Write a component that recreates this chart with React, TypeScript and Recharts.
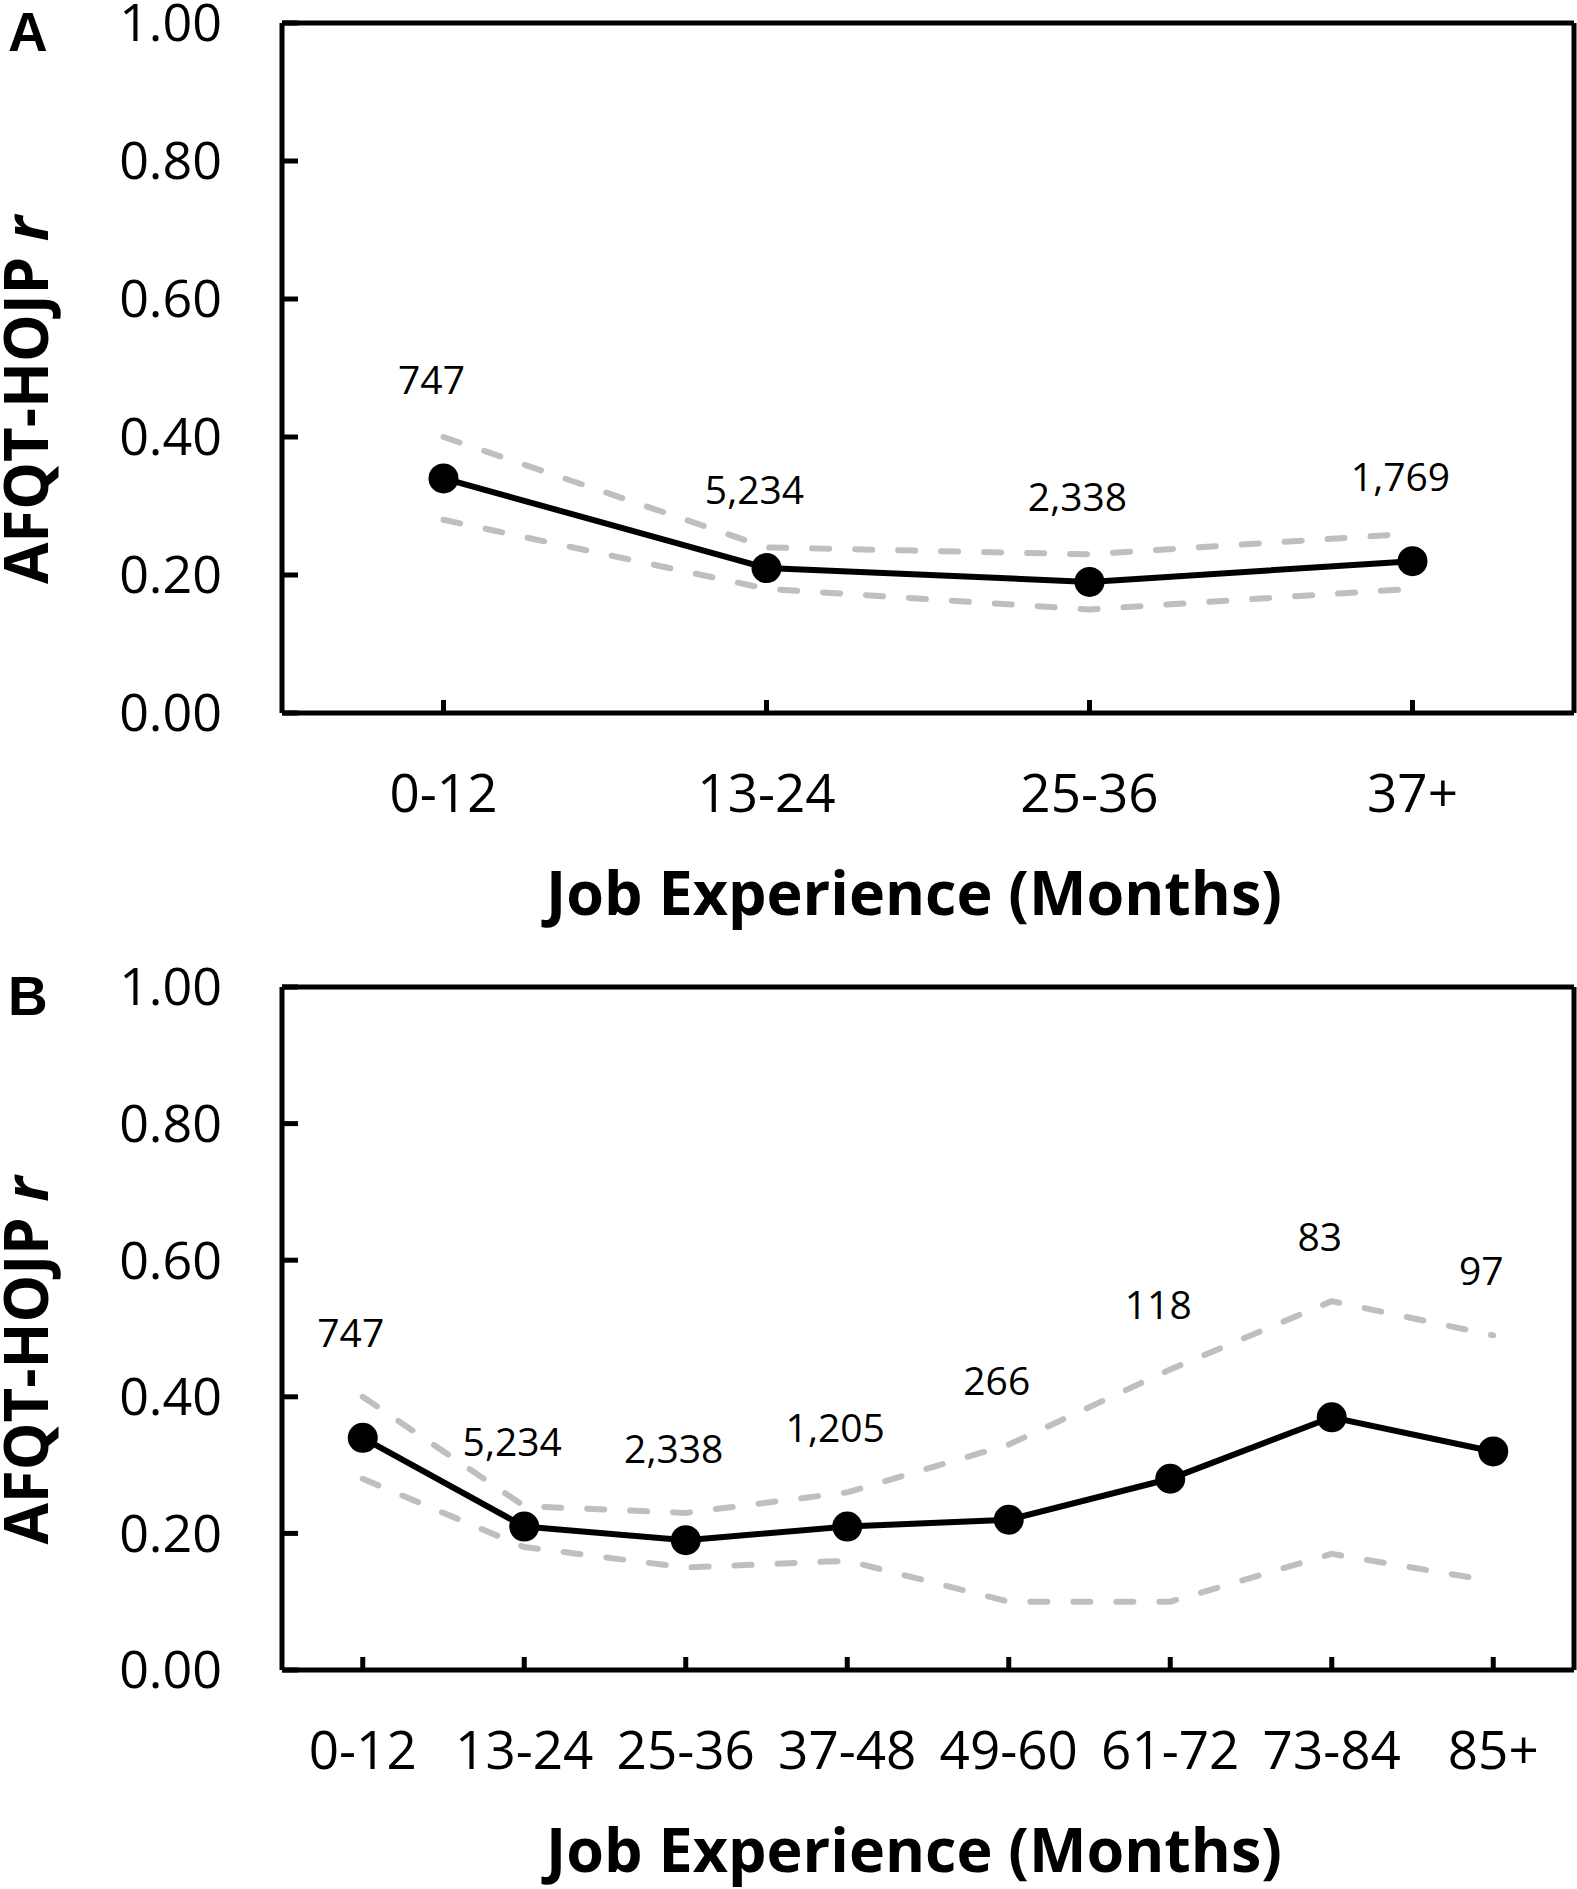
import React from "react";
import { LineChart, Line, XAxis, YAxis, LabelList, Label } from "recharts";

// Panel A: four experience bins
const CATEGORIES_A = ["0-12", "13-24", "25-36", "37+"];
const R_A = [0.34, 0.21, 0.19, 0.22];
const UPPER_A = [0.4, 0.24, 0.23, 0.26];
const LOWER_A = [0.28, 0.18, 0.15, 0.18];
const N_A = [747, 5234, 2338, 1769];

// Panel B: eight experience bins
const CATEGORIES_B = ["0-12", "13-24", "25-36", "37-48", "49-60", "61-72", "73-84", "85+"];
const R_B = [0.34, 0.21, 0.19, 0.21, 0.22, 0.28, 0.37, 0.32];
const UPPER_B = [0.4, 0.24, 0.23, 0.26, 0.33, 0.44, 0.54, 0.49];
const LOWER_B = [0.28, 0.18, 0.15, 0.16, 0.1, 0.1, 0.17, 0.13];
const N_B = [747, 5234, 2338, 1205, 266, 118, 83, 97];

const Y_TICKS = [0, 0.2, 0.4, 0.6, 0.8, 1.0];

const X_TITLE = "Job Experience (Months)";

const WIDTH = 1577;
const TOP = 22;
const RIGHT = 2;
const Y_AXIS_W = 282;
const FONT = "'Open Sans', sans-serif";
const GRAY = "#bfbfbf";

interface PanelProps {
    letter: string;
    categories: string[];
    r: number[];
    upper: number[];
    lower: number[];
    n: number[];
    height: number;
    plotHeight: number;
    labelOffset: number;
}

function Panel({ letter, categories, r, upper, lower, n, height, plotHeight, labelOffset }: PanelProps) {
    const data = categories.map((cat, i) => ({
        cat,
        r: r[i],
        upper: upper[i],
        lower: lower[i],
        n: n[i],
    }));

    // frame axes (top/right) take 1px each
    const plotW = WIDTH - Y_AXIS_W - RIGHT - 1;
    const pad = plotW / (2 * categories.length);
    const xAxisH = height - TOP - 1 - plotHeight;

    const renderYTitle = (props: any) => {
        const vb = props.viewBox || {};
        const cy = vb.y + vb.height / 2 + 32;
        return (
            <g>
                <text x={8} y={vb.y + 28} fontFamily="'Liberation Sans', Arial, sans-serif" fontWeight={700} fontSize={55} fill="#000">
                    {letter}
                </text>
                <text
                    transform={`translate(48, ${cy}) rotate(-90)`}
                    textAnchor="middle"
                    fontFamily={FONT}
                    fontWeight={700}
                    fontSize={60}
                    fill="#000"
                >
                    AFQT-HOJP <tspan fontStyle="italic">r</tspan>
                </text>
            </g>
        );
    };

    const renderXTitle = (props: any) => {
        const vb = props.viewBox || {};
        return (
            <text
                x={vb.x + vb.width / 2 - 14}
                y={vb.y + 202}
                textAnchor="middle"
                fontFamily={FONT}
                fontWeight={700}
                fontSize={61}
                fill="#000"
            >
                {X_TITLE}
            </text>
        );
    };

    const renderN = (props: any) => {
        const { x, y, value } = props;
        return (
            <text x={x - 12} y={y - labelOffset + 14} textAnchor="middle" fontFamily={FONT} fontSize={39} fill="#000">
                {Number(value).toLocaleString("en-US")}
            </text>
        );
    };

    return (
        <LineChart width={WIDTH} height={height} data={data} margin={{ top: TOP, right: RIGHT, bottom: 0, left: 0 }}>
            <XAxis
                dataKey="cat"
                interval={0}
                padding={{ left: pad, right: pad }}
                height={xAxisH}
                tickSize={-13}
                tickMargin={74}
                tick={{ fill: "#000", fontSize: 53, fontFamily: FONT }}
                axisLine={{ stroke: "#000", strokeWidth: 5 }}
                tickLine={{ stroke: "#000", strokeWidth: 5 }}
            >
                <Label content={renderXTitle} />
            </XAxis>
            <XAxis
                xAxisId="top"
                orientation="top"
                dataKey="cat"
                padding={{ left: pad, right: pad }}
                height={1}
                tick={false}
                tickLine={false}
                axisLine={{ stroke: "#000", strokeWidth: 5 }}
            />
            <YAxis
                type="number"
                domain={[0, 1]}
                ticks={Y_TICKS}
                interval={0}
                width={Y_AXIS_W}
                tickFormatter={(v: number) => v.toFixed(2)}
                tickSize={-16}
                tickMargin={76}
                tick={{ fill: "#000", fontSize: 52, fontFamily: FONT }}
                axisLine={{ stroke: "#000", strokeWidth: 5 }}
                tickLine={{ stroke: "#000", strokeWidth: 5 }}
            >
                <Label content={renderYTitle} />
            </YAxis>
            <YAxis
                yAxisId="right"
                orientation="right"
                type="number"
                domain={[0, 1]}
                width={1}
                tick={false}
                tickLine={false}
                axisLine={{ stroke: "#000", strokeWidth: 5 }}
            />
            <Line
                dataKey="upper"
                stroke={GRAY}
                strokeWidth={6}
                strokeDasharray="17 26"
                strokeLinecap="round"
                dot={false}
                activeDot={false}
                isAnimationActive={false}
            >
                <LabelList dataKey="n" content={renderN} />
            </Line>
            <Line
                dataKey="lower"
                stroke={GRAY}
                strokeWidth={6}
                strokeDasharray="17 26"
                strokeLinecap="round"
                dot={false}
                activeDot={false}
                isAnimationActive={false}
            />
            <Line
                dataKey="r"
                stroke="#000"
                strokeWidth={6}
                dot={{ r: 15, fill: "#000", stroke: "none" }}
                activeDot={false}
                isAnimationActive={false}
            />
        </LineChart>
    );
}

export default function App() {
    return (
        <div style={{ position: "absolute", left: 0, top: 0, width: WIDTH, height: 1889, background: "#fff" }}>
            <Panel
                letter="A"
                categories={CATEGORIES_A}
                r={R_A}
                upper={UPPER_A}
                lower={LOWER_A}
                n={N_A}
                height={964}
                plotHeight={690}
                labelOffset={57}
            />
            <Panel
                letter="B"
                categories={CATEGORIES_B}
                r={R_B}
                upper={UPPER_B}
                lower={LOWER_B}
                n={N_B}
                height={925}
                plotHeight={683}
                labelOffset={64}
            />
        </div>
    );
}
